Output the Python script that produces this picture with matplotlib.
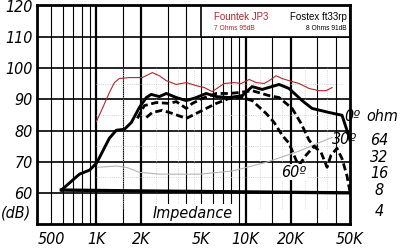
import numpy as np
import matplotlib
matplotlib.use("Agg")
import matplotlib.pyplot as plt
import matplotlib.transforms as mtransforms
from matplotlib.patches import Rectangle

# frequency response readings (Hz, dB)
f_0deg = [583, 770, 900, 1000, 1050, 1220, 1360, 1540, 1715, 1940, 2160, 2330, 2640,
          2940, 3430, 4000, 4670, 5440, 6350, 7750, 9480, 11050, 12900, 16750, 19540,
          23900, 27860, 36200, 44200, 47700, 50000]
db_0deg = [60.9, 66.0, 67.3, 69.5, 71.4, 77.5, 80.1, 80.4, 82.6, 87.4, 90.6, 91.6, 90.9,
           91.9, 90.6, 89.6, 90.6, 91.9, 90.9, 90.6, 91.2, 94.1, 93.2, 94.8, 93.5,
           89.6, 87.1, 85.8, 84.9, 80.1, 76.9]

f_30deg = [1880, 2095, 2520, 3080, 3430, 4000, 4390, 5120, 6350, 7750, 9050, 11050,
           14370, 16750, 20470, 23500, 26600, 28700, 32000, 35100, 37300, 40900, 44200,
           47700, 50000]
db_30deg = [83.9, 88.0, 89.0, 88.7, 89.3, 87.1, 88.7, 90.3, 91.9, 91.9, 92.2, 92.8,
            91.2, 90.6, 87.1, 82.3, 76.9, 74.9, 73.0, 68.2, 72.1, 74.3, 71.0, 65.5, 60.3]

f_60deg = [2160, 2370, 2760, 3220, 4000, 4670, 5440, 6350, 7750, 9480, 11050, 13710,
           15510, 17550, 19540, 21770, 22800, 25400, 28720, 30500]
db_60deg = [84.2, 85.8, 86.5, 85.5, 83.9, 85.5, 87.1, 88.7, 90.3, 90.6, 89.6, 85.5,
            82.6, 78.5, 75.9, 70.5, 68.9, 72.1, 74.9, 74.6]

# Fountek JP3 overlay
f_red = [1000, 1097, 1222, 1320, 1425, 1663, 2031, 2370, 2640, 2940, 3430, 4000, 4670,
         5280, 5970, 7180, 8380, 9330, 10560, 11760, 13300, 14370, 16000, 17550, 19540,
         22800, 26590, 31010, 34560, 37900]
db_red = [82.9, 87.1, 92.2, 95.4, 96.7, 97.0, 97.0, 98.6, 97.6, 96.0, 94.8, 95.4, 94.4,
          93.8, 92.5, 95.1, 95.4, 95.1, 96.4, 95.4, 95.1, 96.0, 97.6, 96.7, 96.0,
          95.1, 93.5, 92.8, 92.8, 93.8]
f_grey = [1015, 1360, 1590, 1940, 2640, 4880, 8115, 13730, 22800, 37900]
db_grey = [68.2, 68.6, 68.2, 66.6, 66.0, 66.0, 67.0, 69.8, 73.4, 77.8]

# impedance trace (drawn on the dB scale)
f_imp = [583, 2000, 10000, 50000]
db_imp = [60.9, 60.6, 60.3, 60.0]

xticks = [500, 1000, 2000, 5000, 10000, 20000, 50000]
xlabels = ["500", "1K", "2K", "5K", "10K", "20K", "50K"]
yticks = [60, 70, 80, 90, 100, 110, 120]
ohm_labels = ["64", "32", "16", "8", "4"]
ohm_pos = [76.9, 71.4, 66.3, 60.9, 53.9]

plt.rcParams['font.family'] = ['DejaVu Sans']
plt.rcParams['font.stretch'] = 'condensed'
lab = dict(fontsize=11.5, style='italic', stretch='condensed')

fig = plt.figure(figsize=(4, 2.48), dpi=100)
ax = fig.add_axes([0.0925, 0.0968, 0.7825, 0.883])
ax.set_xscale('log')
ax.set_xlim(400, 50000)
ax.set_ylim(50, 120.3)

# grid
minor_v = [500, 600, 700, 800, 900, 1500, 3000, 4000, 5000, 6000, 7000, 8000, 9000,
           15000, 30000, 40000]
for v in minor_v:
    ax.axvline(v, color='black', lw=0.8, zorder=1)
for v in [1000, 2000, 10000, 20000]:
    ax.axvline(v, color='black', lw=1.6, zorder=1)
for h in yticks[:-1]:
    ax.axhline(h, color='black', lw=1.2, zorder=1)
for h in [65, 75, 85, 95]:
    ax.plot([1000, 45000], [h, h], color='#c0c0c0', lw=0.6, ls=':', zorder=1)
for v in [1500, 2500, 3500, 4500, 12500, 17500, 25000, 35000]:
    ax.plot([v, v], [55, 100], color='#c8c8c8', lw=0.6, ls=':', zorder=1)

# header box
ax.add_patch(Rectangle((5000, 110), 45000, 10.3, facecolor='white', edgecolor='black',
                       lw=1.2, zorder=3))
ax.text(6100, 116.3, "Fountek JP3", color='#a8282a', fontsize=7, family='Liberation Sans',
        ha='left', va='center', zorder=4)
ax.text(6100, 112.6, "7 Ohms 95dB", color='#a8282a', fontsize=4.8, family='Liberation Sans',
        ha='left', va='center', zorder=4)
ax.text(47500, 116.3, "Fostex ft33rp", color='black', fontsize=7, family='Liberation Sans',
        ha='right', va='center', zorder=4)
ax.text(47500, 112.6, "8 Ohms 91dB", color='black', fontsize=4.8, family='Liberation Sans',
        ha='right', va='center', zorder=4)

# curves
ax.plot(f_grey, db_grey, color='#b4b4b4', lw=0.8, zorder=2)
ax.plot(f_red, db_red, color='#b0282a', lw=0.8, zorder=2)
ax.plot(f_imp, db_imp, color='black', lw=2.4, zorder=4)
ax.plot(f_0deg, db_0deg, color='black', lw=2.1, zorder=5)
ax.plot(f_30deg, db_30deg, color='black', lw=2.0, dashes=(2.6, 1.3), zorder=5)
ax.plot(f_60deg, db_60deg, color='black', lw=2.0, dashes=(2.6, 1.3), zorder=5)

ax.text(4400, 53.5, "Impedance", ha='center', va='center',
        bbox=dict(facecolor='white', edgecolor='none', pad=1.5), zorder=6, **lab)
ax.text(21000, 66.6, "60º", ha='center', va='center',
        bbox=dict(facecolor='white', edgecolor='none', pad=0.2), zorder=6, **lab)

for s in ax.spines.values():
    s.set_linewidth(2.0)
    s.set_zorder(7)

ax.set_xticks(xticks)
ax.set_xticklabels(xlabels, **lab)
ax.xaxis.set_minor_locator(matplotlib.ticker.NullLocator())
ax.set_yticks(yticks)
ax.set_yticklabels([str(t) for t in yticks], **lab)
ax.tick_params(length=0, pad=3)
ax.tick_params(axis='x', pad=6)
ax.text(-0.02, 53.5, "(dB)", transform=mtransforms.blended_transform_factory(ax.transAxes, ax.transData),
        ha='right', va='center', **lab)

tr = mtransforms.blended_transform_factory(fig.transFigure, ax.transData)
ax.text(0.88, 84.5, "0º", transform=tr, ha='center', va='center', clip_on=False, **lab)
ax.text(0.86, 77.0, "30º", transform=tr, ha='center', va='center', clip_on=False, **lab)
ax.text(0.955, 84.5, "ohm", transform=tr, ha='center', va='center', clip_on=False, **lab)
for t, p in zip(ohm_labels, ohm_pos):
    ax.text(0.948, p, t, transform=tr, ha='center', va='center', clip_on=False, **lab)

fig.savefig("out.png", dpi=100)
